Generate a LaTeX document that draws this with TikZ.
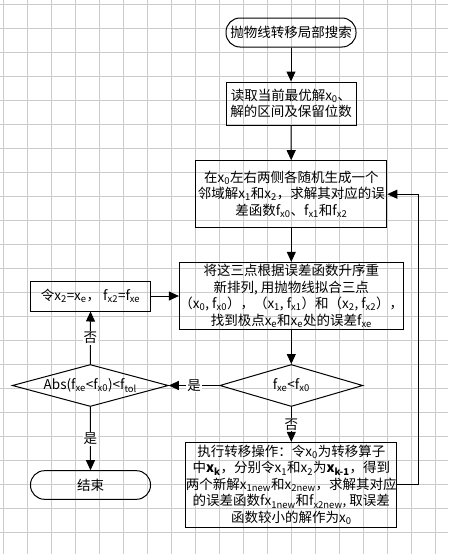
\documentclass[tikz,border=0pt]{standalone}
\usepackage{fontspec}
\setmainfont{Noto Sans CJK SC}
\usetikzlibrary{shapes.geometric,arrows.meta}
\newcommand{\xs}[1]{x\textsubscript{#1}}
\newcommand{\fs}[1]{f\textsubscript{x#1}}
\begin{document}
\begin{tikzpicture}[x=1pt,y=-1pt]
    \tikzstyle{every node}=[font=\fontsize{13.5}{16.5}\selectfont,inner sep=0pt,align=center]
    \tikzstyle{gridline}=[gray!40,line width=0.8pt]
    \tikzstyle{terminal}=[draw,line width=1pt,rectangle,rounded corners=14pt]
    \tikzstyle{process}=[draw,line width=1pt,rectangle]
    \tikzstyle{decision}=[draw,line width=1pt,diamond,aspect=3.5]
    \tikzstyle{flow}=[line width=1pt,-{Triangle[length=10pt,width=9pt]}]
    \tikzstyle{tag}=[fill=white,inner sep=1pt]
    \useasboundingbox (0,0) rectangle (448,554);
    \foreach \i in {0,...,18}
        \draw[gridline] (3.3+24*\i,0) -- (3.3+24*\i,554);
    \foreach \j in {0,...,22}
        \draw[gridline] (0,4.3+24*\j) -- (448,4.3+24*\j);
    \node[terminal,minimum width=130pt,minimum height=29pt] (start) at (291,32.5) {抛物线转移局部搜索};
    \node[process,minimum width=130pt,minimum height=43pt] (read) at (291,103.5)
        {读取当前最优解\xs{0}、\\解的区间及保留位数};
    \node[process,minimum width=191pt,minimum height=67pt] (gen) at (291.3,194.2)
        {在\xs{0}左右两侧各随机生成一个\\邻域解\xs{1}和\xs{2}，求解其对应的误\\差函数\fs{0}、\fs{1}和\fs{2}};
    \node[process,minimum width=191pt,minimum height=67pt] (fit) at (291.3,295.8)
        {将这三点根据误差函数升序重\\新排列, 用抛物线拟合三点\\（\xs{0}, \fs{0}），（\xs{1}, \fs{1}）和（\xs{2}, \fs{2}），\\找到极点\xs{e}和\xs{e}处的误差\fs{e}};
    \node[decision,minimum width=143pt,minimum height=42pt] (cmp) at (291.3,385.5) {\fs{e}<\fs{0}};
    \node[decision,minimum width=156pt,minimum height=42pt] (tol) at (90.3,385.5)
        {Abs(\fs{e}<\fs{0})<f\textsubscript{tol}};
    \node[process,minimum width=120pt,minimum height=30pt] (set) at (90.5,296) {令\xs{2}=\xs{e}， \fs{2}=\fs{e}};
    \node[process,minimum width=206pt,minimum height=85pt] (shift) at (291.3,484.8)
        {执行转移操作：令\xs{0}为转移算子\\中\textbf{x}\textsubscript{\textbf{k}}，分别令\xs{1}和\xs{2}为\textbf{x}\textsubscript{\textbf{k-1}}，得到\\两个新解\xs{1new}和\xs{2new}，求解其对应\\的误差函数fx\textsubscript{1new}和\fs{2new}, 取误差\\函数较小的解作为\xs{0}};
    \node[terminal,minimum width=120pt,minimum height=28.6pt] (end) at (90.5,485) {结束};
    \coordinate (back) at (418.7,194.2);
    \draw[flow] (start) -- (read);
    \draw[flow] (read) -- (gen);
    \draw[flow] (gen) -- (fit);
    \draw[flow] (fit) -- (cmp);
    \draw[flow] (cmp.west) -- node[tag] {是} (tol.east);
    \draw[flow] (cmp.south) -- node[tag] {否} (shift.north);
    \draw[flow] (tol.north) -- node[tag] {否} (set.south);
    \draw[flow] (tol.south) -- node[tag] {是} (end.north);
    \draw[flow] (set.east) -- (set.east -| fit.west);
    \draw[flow] (shift.east) -| (back) -- (gen.east);
\end{tikzpicture}
\end{document}
